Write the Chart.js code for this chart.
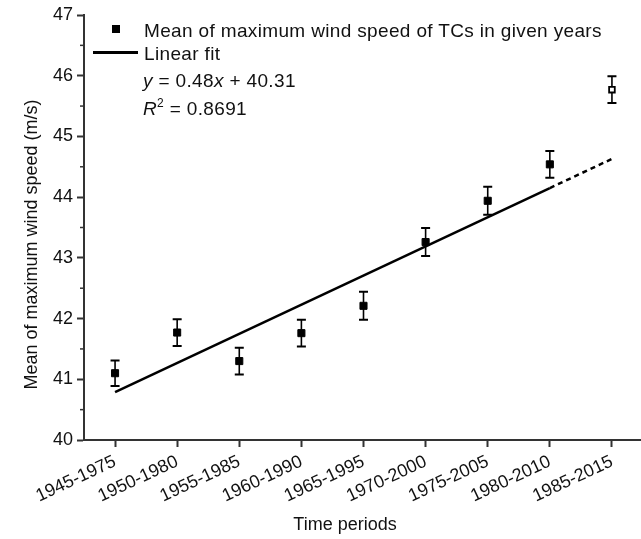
<!DOCTYPE html>
<html>
<head>
<meta charset="utf-8">
<script src="https://cdn.jsdelivr.net/npm/chart.js@4.4.1/dist/chart.umd.min.js"></script>
<style>
  html, body { margin: 0; padding: 0; background: #fff; overflow: hidden; }
  #wrap { position: relative; width: 649px; height: 539px; }
  #legend { position: absolute; left: 0; top: 0; font-family: "Liberation Sans", Arial, sans-serif; font-size: 19px; color: #111; letter-spacing: 0.35px; }
  .row { position: absolute; white-space: nowrap; line-height: 19px; }
  .sq { position: absolute; width: 8px; height: 8px; background: #000; }
  .ln { position: absolute; height: 2.5px; background: #000; }
  sup { font-size: 12px; vertical-align: 0; position: relative; top: -8px; }
</style>
</head>
<body>
<div id="wrap">
  <canvas id="c" width="649" height="539"></canvas>
  <div id="legend">
    <div class="sq" style="left:112px; top:25px;"></div>
    <div class="row" style="left:144px; top:20.6px;">Mean of maximum wind speed of TCs in given years</div>
    <div class="ln" style="left:93px; top:51px; width:45px;"></div>
    <div class="row" style="left:144px; top:43.9px;">Linear fit</div>
    <div class="row" style="left:143px; top:71.2px;"><i>y</i> = 0.48<i>x</i> + 40.31</div>
    <div class="row" style="left:143px; top:98.9px;"><i>R</i><sup>2</sup> = 0.8691</div>
  </div>
</div>
<script>
// ---- data ----
const periods = ['1945-1975','1950-1980','1955-1985','1960-1990','1965-1995','1970-2000','1975-2005','1980-2010','1985-2015'];
const meanSpeed = [41.10, 41.77, 41.30, 41.76, 42.21, 43.26, 43.94, 44.54, 45.77];
const errHalf   = [0.21, 0.22, 0.22, 0.22, 0.23, 0.23, 0.23, 0.22, 0.22];
const fitSlope = 0.48;
const fitIntercept = 40.31;
const yTicks = [40, 41, 42, 43, 44, 45, 46, 47];
const xTitle = 'Time periods';
const yTitle = 'Mean of maximum wind speed (m/s)';

const nFilled = 8; // periods used in fit (filled markers)
const filledPts = meanSpeed.slice(0, nFilled).map((v, i) => ({x: i, y: v}));
const openPts = meanSpeed.slice(nFilled).map((v, i) => ({x: nFilled + i, y: v}));
const fitAt = i => fitSlope * (i + 1) + fitIntercept;
const fitSolid = [{x: 0, y: fitAt(0)}, {x: nFilled - 1, y: fitAt(nFilled - 1)}];
const fitDash = [{x: nFilled - 1, y: fitAt(nFilled - 1)}, {x: periods.length - 1, y: fitAt(periods.length - 1)}];

const FAMILY = '"Liberation Sans", Arial, sans-serif';
const FONT = {family: FAMILY, size: 18};
const AX = '#333';

const errorBars = {
  id: 'errorBars',
  beforeDatasetsDraw(chart) {
    const {ctx, scales: {x, y}} = chart;
    ctx.save();
    ctx.strokeStyle = '#000';
    meanSpeed.forEach((m, i) => {
      const px = x.getPixelForValue(i);
      const top = y.getPixelForValue(m + errHalf[i]);
      const bot = y.getPixelForValue(m - errHalf[i]);
      ctx.lineWidth = 1.6;
      ctx.beginPath(); ctx.moveTo(px, top); ctx.lineTo(px, bot); ctx.stroke();
      ctx.lineWidth = 2;
      ctx.beginPath();
      ctx.moveTo(px - 4.5, top); ctx.lineTo(px + 4.5, top);
      ctx.moveTo(px - 4.5, bot); ctx.lineTo(px + 4.5, bot);
      ctx.stroke();
    });
    ctx.restore();
  }
};

const extras = {
  id: 'extras',
  afterDraw(chart) {
    const {ctx, chartArea: ca, scales: {y}} = chart;
    ctx.save();
    // minor ticks
    ctx.strokeStyle = AX; ctx.lineWidth = 1.5;
    for (let k = 0; k < yTicks.length - 1; k++) {
      const v = (yTicks[k] + yTicks[k + 1]) / 2;
      const py = y.getPixelForValue(v);
      ctx.beginPath(); ctx.moveTo(y.right - 4, py); ctx.lineTo(y.right, py); ctx.stroke();
    }
    // axis titles
    ctx.fillStyle = '#111';
    ctx.font = '18px ' + FAMILY;
    ctx.textAlign = 'center';
    ctx.textBaseline = 'alphabetic';
    ctx.fillText(xTitle, ca.left + 261, ca.bottom + 90);
    ctx.translate(ca.left - 47, (ca.top + ca.bottom) / 2 + 17);
    ctx.rotate(-Math.PI / 2);
    ctx.fillText(yTitle, 0, 0);
    ctx.restore();
  }
};

new Chart(document.getElementById('c'), {
  type: 'scatter',
  data: {
    datasets: [
      {data: fitSolid, showLine: true, borderColor: '#000', borderWidth: 2.5, pointRadius: 0, order: 2},
      {data: fitDash, showLine: true, borderColor: '#000', borderWidth: 2.5, borderDash: [5, 4], pointRadius: 0, order: 2},
      {data: filledPts, pointStyle: 'rect', pointRadius: 5, backgroundColor: '#000', borderColor: '#000', borderWidth: 1, order: 1},
      {data: openPts, pointStyle: 'rect', pointRadius: 4, backgroundColor: '#fff', borderColor: '#000', borderWidth: 1.8, order: 1}
    ]
  },
  options: {
    responsive: false,
    animation: false,
    layout: {padding: {top: 15, right: 0, left: 0, bottom: 0}},
    plugins: {legend: {display: false}, tooltip: {enabled: false}},
    scales: {
      x: {
        type: 'linear', min: -0.5, max: periods.length - 0.5,
        afterBuildTicks(s) { s.ticks = periods.map((p, i) => ({value: i})); },
        afterFit(s) { s.height = 99; s.paddingLeft = 0; s.paddingRight = 0; },
        ticks: {callback: v => periods[v], minRotation: 25, maxRotation: 25, autoSkip: false, font: FONT, color: '#111', padding: 4},
        grid: {display: true, drawOnChartArea: false, drawTicks: true, tickLength: 7, tickWidth: 2, tickColor: AX},
        border: {display: true, color: AX, width: 2}
      },
      y: {
        min: 40, max: 47,
        afterBuildTicks(s) { s.ticks = yTicks.map(v => ({value: v})); },
        afterFit(s) { s.width = 84; s.paddingTop = 0; s.paddingBottom = 0; },
        ticks: {font: FONT, color: '#111', padding: 4},
        grid: {display: true, drawOnChartArea: false, drawTicks: true, tickLength: 7, tickWidth: 2, tickColor: AX},
        border: {display: true, color: AX, width: 2}
      }
    }
  },
  plugins: [errorBars, extras]
});
</script>
</body>
</html>
